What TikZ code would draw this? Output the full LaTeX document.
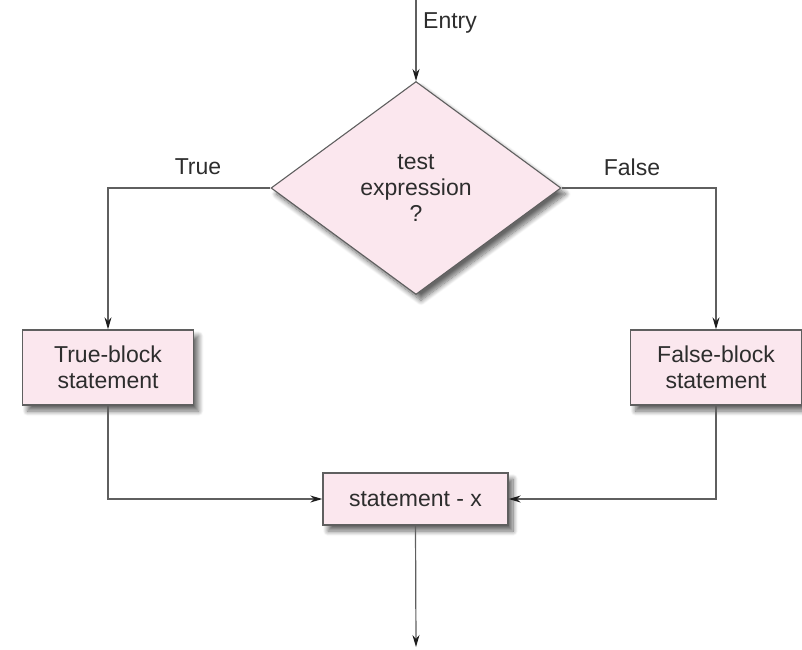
\documentclass[tikz,border=0pt]{standalone}
\usepackage{fontspec}
\setmainfont{Liberation Sans}
\usetikzlibrary{shapes.geometric,arrows.meta,shadows.blur}
\definecolor{boxfill}{RGB}{251,231,238}
\definecolor{edge}{RGB}{95,95,95}
\definecolor{ink}{RGB}{45,45,45}
\definecolor{tip}{RGB}{30,30,30}
\begin{document}
\begin{tikzpicture}[x=1pt,y=-1pt,
  every node/.style={font=\fontsize{23}{26}\selectfont, text=ink},
  soft/.style={blur shadow={shadow xshift=5pt, shadow yshift=-6pt,
      shadow blur radius=5pt, shadow blur steps=10, shadow opacity=60}},
  proc/.style={draw=edge, line width=1.4pt, fill=boxfill, align=center,
      inner sep=0pt, soft},
  dec/.style={diamond, draw=edge, line width=1.1pt, fill=boxfill, align=center,
      inner sep=0pt, minimum width=290pt, minimum height=213pt, soft},
  flow/.style={draw=edge, line width=1.2pt,
      -{Stealth[length=12pt,width=7pt,color=tip]}},
  lbl/.style={inner sep=0pt}
]
\useasboundingbox (0,0) rectangle (802,649);

% decision and process blocks
\node[dec] (test) at (416,188) {test\\expression\\?};
\node[proc, minimum width=171pt, minimum height=75pt] (tb) at (108,367.5) {True-block\\statement};
\node[proc, minimum width=171pt, minimum height=75pt] (fb) at (716,367.5) {False-block\\statement};
\node[proc, minimum width=185pt, minimum height=52pt] (sx) at (415.5,499) {statement - x};

% free ends of the entry and exit arrows
\coordinate (entry) at (416,0);
\coordinate (exit) at (416,647);

% connectors
\draw[flow] (entry) -- (test.north);
\draw[flow] (test.west) -| (tb.north);
\draw[flow] (test.east) -| (fb.north);
\draw[flow] (tb.south) |- (sx.west);
\draw[flow] (fb.south) |- (sx.east);
\draw[flow] (sx.south) -- (exit);

% labels
\node[lbl, anchor=west] (entrylbl) at (423,23) {Entry};
\node[lbl] (truelbl) at (198,167) {True};
\node[lbl] (falselbl) at (632,167) {False};
\end{tikzpicture}
\end{document}
